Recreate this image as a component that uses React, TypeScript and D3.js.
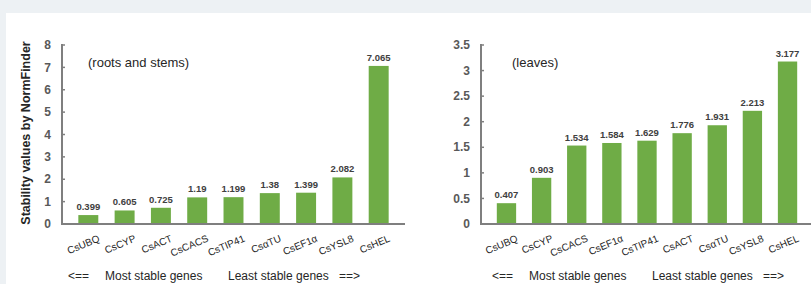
import * as d3 from "d3"
import React from "react"

// roots and stems
const rootGenes = ["CsUBQ", "CsCYP", "CsACT", "CsCACS", "CsTIP41", "CsαTU", "CsEF1α", "CsYSL8", "CsHEL"]
const rootValues = [0.399, 0.605, 0.725, 1.19, 1.199, 1.38, 1.399, 2.082, 7.065]
const rootTicks = [0, 1, 2, 3, 4, 5, 6, 7, 8]

// leaves
const leafGenes = ["CsUBQ", "CsCYP", "CsCACS", "CsEF1α", "CsTIP41", "CsACT", "CsαTU", "CsYSL8", "CsHEL"]
const leafValues = [0.407, 0.903, 1.534, 1.584, 1.629, 1.776, 1.931, 2.213, 3.177]
const leafTicks = [0, 0.5, 1, 1.5, 2, 2.5, 3, 3.5]

const W = 811
const H = 284
const GREEN = "#6fac46"
const AXIS = "#7f7f7f"
const FONT = "Arial, 'Liberation Sans', sans-serif"

interface PanelProps {
  genes: string[]
  values: number[]
  ticks: number[]
  left: number
  right: number
  label: string
  labelX: number
  noteX: number
}

const Panel: React.FC<PanelProps> = ({ genes, values, ticks, left, right, label, labelX, noteX }) => {
  const top = 45
  const bottom = 224
  const y = d3
    .scaleLinear()
    .domain([0, ticks[ticks.length - 1]])
    .range([bottom, top])
  const x = d3.scaleBand().domain(genes).range([left, right]).padding(0.45)
  const bw = x.bandwidth()

  return (
    <g style={{ fontFamily: FONT }}>
      {/* bars */}
      {genes.map((g, i) => (
        <rect key={g} x={x(g)!} y={y(values[i])} width={bw} height={y(0) - y(values[i])} fill={GREEN} />
      ))}
      {/* value labels */}
      {genes.map((g, i) => (
        <text
          key={"v" + g}
          x={x(g)! + bw / 2}
          y={y(values[i]) - 5}
          textAnchor="middle"
          fontSize={9.5}
          fontWeight="bold"
          fill="#404040"
        >
          {String(values[i])}
        </text>
      ))}
      {/* y axis */}
      <line x1={left} x2={left} y1={top - 1} y2={bottom} stroke={AXIS} strokeWidth={2} />
      {ticks.map((t) => (
        <g key={t}>
          <line x1={left} x2={left + 3} y1={y(t)} y2={y(t)} stroke={AXIS} strokeWidth={1.5} />
          <text x={left - 11} y={y(t)} dy="0.35em" textAnchor="end" fontSize={12} fontWeight="bold" fill="#595959">
            {t}
          </text>
        </g>
      ))}
      {/* x axis */}
      <line x1={left - 1} x2={right} y1={bottom} y2={bottom} stroke={AXIS} strokeWidth={2} />
      {genes.map((g) => (
        <text
          key={"c" + g}
          transform={`translate(${x(g)! + bw / 2 + 12},${bottom + 17}) rotate(-23)`}
          textAnchor="end"
          fontSize={10}
          fill="#262626"
        >
          {g}
        </text>
      ))}
      <text x={labelX} y={67} fontSize={13} fill="#262626">
        {label}
      </text>
      {/* bottom note */}
      <g fontSize={12} fill="#262626">
        <text x={noteX} y={280}>{"<=="}</text>
        <text x={noteX + 37} y={280}>Most stable genes</text>
        <text x={noteX + 160} y={280}>Least stable genes</text>
        <text x={noteX + 292} y={280} textAnchor="end">{"==>"}</text>
      </g>
    </g>
  )
}

export default function App() {
  return (
    <svg
      width={W}
      height={H}
      style={{ position: "absolute", left: 0, top: 0, display: "block" }}
    >
      <rect x={0} y={0} width={W} height={H} fill="#edf1f4" />
      <rect x={6} y={13} width={W - 6} height={H - 13} fill="#ffffff" />
      <text
        transform="translate(30,133) rotate(-90)"
        textAnchor="middle"
        fontSize={12.5}
        fontWeight="bold"
        fill="#262626"
        style={{ fontFamily: FONT }}
      >
        Stability values by NormFinder
      </text>
      <Panel
        genes={rootGenes}
        values={rootValues}
        ticks={rootTicks}
        left={62}
        right={405}
        label="(roots and stems)"
        labelX={88}
        noteX={68}
      />
      <Panel
        genes={leafGenes}
        values={leafValues}
        ticks={leafTicks}
        left={481}
        right={813}
        label="(leaves)"
        labelX={512}
        noteX={492}
      />
    </svg>
  )
}
